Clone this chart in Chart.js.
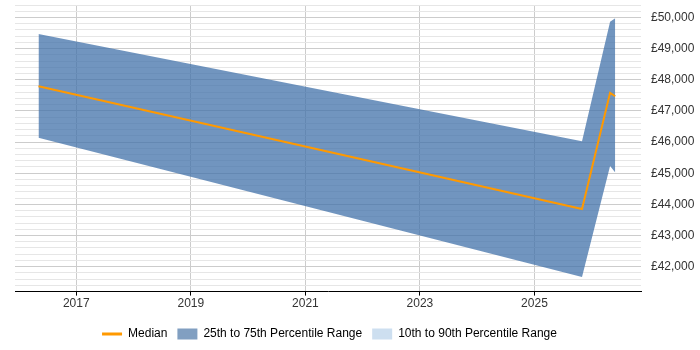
<!DOCTYPE html>
<html>
<head>
<meta charset="utf-8">
<script src="https://cdn.jsdelivr.net/npm/chart.js@4/dist/chart.umd.min.js"></script>
<style>
  html, body { margin: 0; padding: 0; background: #fff; }
  #wrap { width: 700px; height: 350px; position: relative; }
</style>
</head>
<body>
<div id="wrap"><canvas id="c"></canvas></div>
<script>
// Data (x as decimal years)
const years = [2016.34, 2025.83, 2026.32, 2026.41];
const median = [47790, 43850, 47580, 47470];
const p75 = [49470, 46030, 49860, 49975];
const p25 = [46140, 41670, 45235, 45025];
const p90 = [];
const p10 = [];
const xTickYears = [2017, 2019, 2021, 2023, 2025];
const yLabelTicks = [42000, 43000, 44000, 45000, 46000, 47000, 48000, 49000, 50000];
const yMin = 41200, yMax = 50400, yMinorStep = 200;

const pts = (arr) => arr.map((v, i) => ({ x: years[i], y: v }));

const FONT = "'Liberation Sans', Arial, sans-serif";
const legendShift = {
  id: 'legendShift',
  afterLayout(chart) {
    const lg = chart.legend;
    if (lg) { lg.left -= 28; lg.right -= 28; }
  }
};

new Chart(document.getElementById('c'), {
  type: 'line',
  data: {
    datasets: [
      { label: 'Median', data: pts(median), borderColor: '#ff9900', backgroundColor: '#ff9900',
        borderWidth: 2, pointRadius: 0, fill: false, tension: 0, order: 0 },
      { label: '25th to 75th Percentile Range', data: pts(p75), borderWidth: 0, borderColor: 'rgba(0,0,0,0)',
        backgroundColor: 'rgba(65,113,170,0.75)', pointRadius: 0, fill: '+1', tension: 0, order: 1 },
      { label: '_p25', data: pts(p25), borderWidth: 0, borderColor: 'rgba(0,0,0,0)',
        backgroundColor: 'rgba(0,0,0,0)', pointRadius: 0, fill: false, tension: 0, order: 2 },
      { label: '10th to 90th Percentile Range', data: pts(p90), borderWidth: 0,
        backgroundColor: 'rgba(198,217,238,0.8)', pointRadius: 0, fill: false, order: 3 }
    ]
  },
  options: {
    responsive: true,
    maintainAspectRatio: false,
    animation: false,
    layout: { padding: { left: 15, top: 5, right: 0, bottom: 0 } },
    plugins: {
      tooltip: { enabled: false },
      legend: {
        position: 'bottom',
        labels: {
          font: { family: FONT, size: 12 },
          color: '#333',
          usePointStyle: true,
          pointStyleWidth: 20,
          boxHeight: 11,
          padding: 10,
          generateLabels() {
            return [
              { text: 'Median', pointStyle: 'line', strokeStyle: '#ff9900', fillStyle: '#ff9900', lineWidth: 3, datasetIndex: 0 },
              { text: '25th to 75th Percentile Range', pointStyle: 'rect', strokeStyle: '#819fc1', fillStyle: '#819fc1', lineWidth: 0, datasetIndex: 1 },
              { text: '10th to 90th Percentile Range', pointStyle: 'rect', strokeStyle: '#cddff0', fillStyle: '#cddff0', lineWidth: 0, datasetIndex: 3 }
            ];
          }
        }
      }
    },
    scales: {
      x: {
        type: 'linear',
        min: 2015.93,
        max: 2026.86,
        afterBuildTicks(scale) { scale.ticks = xTickYears.map(v => ({ value: v })); },
        afterFit(scale) { scale.paddingLeft = 0; scale.paddingRight = 0; scale.height += 6; },
        ticks: {
          autoSkip: false,
          maxRotation: 0,
          padding: 1,
          color: '#333',
          font: { family: FONT, size: 12 },
          callback: (v) => String(v)
        },
        grid: { color: '#cccccc', tickColor: '#000', tickLength: 4, drawTicks: true },
        border: { display: true, color: '#000', width: 1 }
      },
      y: {
        position: 'right',
        min: yMin,
        max: yMax,
        afterBuildTicks(scale) {
          const t = [];
          for (let v = yMin; v <= yMax; v += yMinorStep) t.push({ value: v });
          scale.ticks = t;
        },
        afterFit(scale) { scale.width = 59; scale.paddingTop = 0; scale.paddingBottom = 0; },
        ticks: {
          autoSkip: false,
          padding: 10,
          color: '#333',
          font: { family: FONT, size: 12 },
          callback: (v) => yLabelTicks.includes(v) ? '£' + v.toLocaleString('en-GB') : ''
        },
        grid: {
          drawTicks: false,
          color: (ctx) => (ctx.tick && ctx.tick.value % 1000 === 0) ? '#cccccc' : '#e6e6e6'
        },
        border: { display: false }
      }
    }
  },
  plugins: [legendShift]
});
</script>
</body>
</html>
